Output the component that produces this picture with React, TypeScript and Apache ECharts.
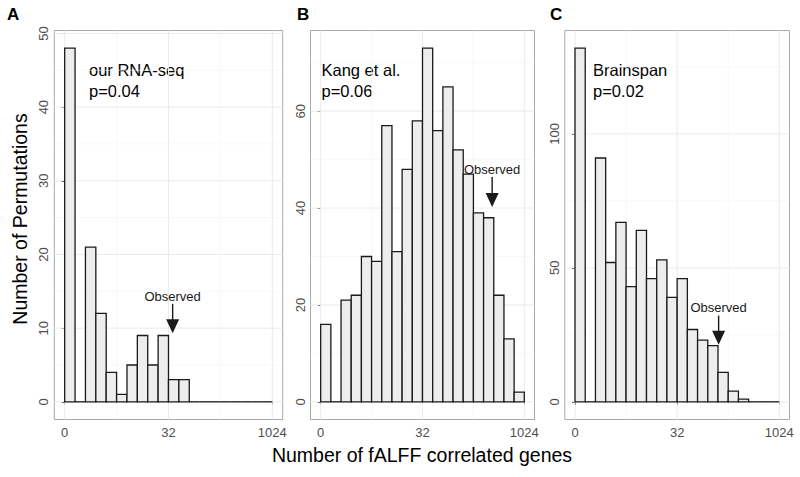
import React, { useEffect, useRef } from "react";
import * as echarts from "echarts";

// ---- data ----
const xTickValues = [0, 5, 10]; // log2 positions
const xTickLabels = ["0", "32", "1024"];
const xMinorValues = [2.5, 7.5];
const binWidth = 0.5;

const rnaSeqCounts = [48, 0, 21, 12, 4, 1, 5, 9, 5, 9, 3, 3, 0, 0, 0, 0, 0, 0, 0, 0];
const kangCounts = [16, 0, 21, 22, 30, 29, 57, 31, 48, 58, 73, 56, 65, 52, 47, 39, 38, 22, 13, 2];
const brainspanCounts = [132, 0, 91, 52, 67, 43, 64, 46, 53, 39, 46, 27, 23, 21, 11, 4, 1, 0, 0, 0];

const rnaSeqYTicks = [0, 10, 20, 30, 40, 50];
const kangYTicks = [0, 20, 40, 60];
const brainspanYTicks = [0, 50, 100];

const rnaSeqYMinor = [5, 15, 25, 35, 45];
const kangYMinor = [10, 30, 50, 70];
const brainspanYMinor = [25, 75, 125];

// observed marker: [x, labelY, shaftStartY, tipY]
const rnaSeqObserved = [5.2, 14.3, 13.3, 9.3];
const kangObserved = [8.42, 48.0, 46.4, 40.2];
const brainspanObserved = [7.03, 35.2, 32.2, 21.3];

const panelLetters = ["A", "B", "C"];
const panelTitles = ["our RNA-seq", "Kang et al.", "Brainspan"];
const panelPValues = ["p=0.04", "p=0.06", "p=0.02"];

const FONT = "'Liberation Sans', Arial, Helvetica, sans-serif";

export default function App() {
  const ref = useRef<HTMLDivElement>(null);

  useEffect(() => {
    document.body.style.margin = "0";
    if (!ref.current) return;
    const chart = echarts.init(ref.current, null, { renderer: "svg" });

    const panels = [
      { counts: rnaSeqCounts, ticks: rnaSeqYTicks, minor: rnaSeqYMinor, obs: rnaSeqObserved, left: 54.3, width: 228.4, textX: 89 },
      { counts: kangCounts, ticks: kangYTicks, minor: kangYMinor, obs: kangObserved, left: 310.5, width: 224, textX: 321.5 },
      { counts: brainspanCounts, ticks: brainspanYTicks, minor: brainspanYMinor, obs: brainspanObserved, left: 564.8, width: 224.7, textX: 593 },
    ];
    const top = 30.5;
    const height = 389;

    const grids: any[] = [];
    const xAxes: any[] = [];
    const yAxes: any[] = [];
    const series: any[] = [];
    const graphics: any[] = [];

    panels.forEach((p, i) => {
      const maxCount = Math.max(...p.counts);
      grids.push({
        left: p.left,
        top,
        width: p.width,
        height,
        show: true,
        borderColor: "#a9a9a9",
        borderWidth: 1,
        backgroundColor: "transparent",
      });
      xAxes.push({
        type: "value",
        gridIndex: i,
        min: -0.5,
        max: 10.5,
        axisLine: { show: false },
        splitLine: { show: false },
        axisTick: { show: true, length: 3, lineStyle: { color: "#333", width: 1 }, customValues: xTickValues },
        axisLabel: {
          show: true,
          customValues: xTickValues,
          margin: 6,
          color: "#4d4d4d",
          fontSize: 13,
          fontFamily: FONT,
          formatter: (v: number) => {
            const k = xTickValues.indexOf(v);
            return k >= 0 ? xTickLabels[k] : "";
          },
        },
      });
      yAxes.push({
        type: "value",
        gridIndex: i,
        min: -0.05 * maxCount,
        max: 1.05 * maxCount,
        axisLine: { show: false },
        splitLine: { show: false },
        axisTick: { show: true, length: 3, lineStyle: { color: "#333", width: 1 }, customValues: p.ticks },
        axisLabel: {
          show: true,
          customValues: p.ticks,
          rotate: 90,
          margin: 4,
          color: "#4d4d4d",
          fontSize: 13,
          fontFamily: FONT,
        },
      });

      // grid lines
      const gridData: any[] = [];
      xTickValues.forEach((v) => gridData.push([0, v, 1]));
      xMinorValues.forEach((v) => gridData.push([0, v, 0]));
      p.ticks.forEach((v) => gridData.push([1, v, 1]));
      p.minor.forEach((v) => gridData.push([1, v, 0]));
      series.push({
        type: "custom",
        xAxisIndex: i,
        yAxisIndex: i,
        silent: true,
        z: 1,
        data: gridData,
        encode: { x: -1, y: -1 } as any,
        renderItem: (params: any, api: any) => {
          const cs = params.coordSys;
          const kind = api.value(0);
          const v = api.value(1);
          const major = api.value(2) === 1;
          const style = { stroke: major ? "#ebebeb" : "#f3f3f3", lineWidth: major ? 1 : 0.6 };
          if (kind === 0) {
            const px = api.coord([v, 0])[0];
            return { type: "line", shape: { x1: px, y1: cs.y, x2: px, y2: cs.y + cs.height }, style };
          }
          const py = api.coord([0, v])[1];
          return { type: "line", shape: { x1: cs.x, y1: py, x2: cs.x + cs.width, y2: py }, style };
        },
      });

      // histogram bars
      series.push({
        type: "custom",
        xAxisIndex: i,
        yAxisIndex: i,
        z: 2,
        silent: true,
        data: p.counts.map((c, k) => [k * binWidth, (k + 1) * binWidth, c]),
        encode: { x: [0, 1], y: 2 },
        renderItem: (params: any, api: any) => {
          const x0 = api.value(0);
          const x1 = api.value(1);
          const c = api.value(2);
          const p0 = api.coord([x0, 0]);
          const p1 = api.coord([x1, c]);
          if (c === 0) {
            return {
              type: "line",
              shape: { x1: p0[0], y1: p0[1], x2: p1[0], y2: p0[1] },
              style: { stroke: "#1a1a1a", lineWidth: 1.3 },
            };
          }
          return {
            type: "rect",
            shape: { x: p0[0], y: p1[1], width: p1[0] - p0[0], height: p0[1] - p1[1] },
            style: { fill: "#ededed", stroke: "#1a1a1a", lineWidth: 1.3 },
          };
        },
      });

      // observed arrow
      series.push({
        type: "custom",
        xAxisIndex: i,
        yAxisIndex: i,
        z: 3,
        silent: true,
        data: [p.obs],
        encode: { x: 0, y: 1 },
        renderItem: (params: any, api: any) => {
          const x = api.value(0);
          const ly = api.value(1);
          const sy = api.value(2);
          const ty = api.value(3);
          const lp = api.coord([x, ly]);
          const sp = api.coord([x, sy]);
          const tp = api.coord([x, ty]);
          const headLen = 14;
          const headHalf = 6.5;
          return {
            type: "group",
            children: [
              {
                type: "line",
                shape: { x1: sp[0], y1: sp[1], x2: tp[0], y2: tp[1] - headLen + 1 },
                style: { stroke: "#1a1a1a", lineWidth: 1.4 },
              },
              {
                type: "polygon",
                shape: {
                  points: [
                    [tp[0] - headHalf, tp[1] - headLen],
                    [tp[0] + headHalf, tp[1] - headLen],
                    [tp[0], tp[1]],
                  ],
                },
                style: { fill: "#1a1a1a" },
              },
              {
                type: "text",
                x: lp[0],
                y: lp[1],
                style: {
                  text: "Observed",
                  fill: "#1a1a1a",
                  fontSize: 13,
                  fontFamily: FONT,
                  align: "center",
                  verticalAlign: "middle",
                },
              },
            ],
          };
        },
      });

      graphics.push({
        type: "text",
        left: p.textX,
        top: 60,
        style: {
          text: panelTitles[i] + "\n" + panelPValues[i],
          fill: "#000",
          fontSize: 16.5,
          lineHeight: 20.5,
          fontFamily: FONT,
        },
      });
      graphics.push({
        type: "text",
        left: [7, 297, 550][i],
        top: 6,
        style: {
          text: panelLetters[i],
          fill: "#000",
          fontSize: 17,
          fontWeight: "bold",
          fontFamily: FONT,
        },
      });
    });

    graphics.push({
      type: "text",
      x: 20,
      y: 219,
      rotation: Math.PI / 2,
      style: {
        text: "Number of Permutations",
        fill: "#000",
        fontSize: 19.5,
        fontFamily: FONT,
        textAlign: "center",
        textVerticalAlign: "middle",
      },
    });
    graphics.push({
      type: "text",
      x: 422,
      y: 455,
      style: {
        text: "Number of fALFF correlated genes",
        fill: "#000",
        fontSize: 19.5,
        fontFamily: FONT,
        textAlign: "center",
        textVerticalAlign: "middle",
      },
    });

    chart.setOption({
      animation: false,
      backgroundColor: "#ffffff",
      grid: grids,
      xAxis: xAxes,
      yAxis: yAxes,
      series,
      graphic: graphics,
    });

    return () => chart.dispose();
  }, []);

  return <div ref={ref} style={{ width: 800, height: 477 }} />;
}
